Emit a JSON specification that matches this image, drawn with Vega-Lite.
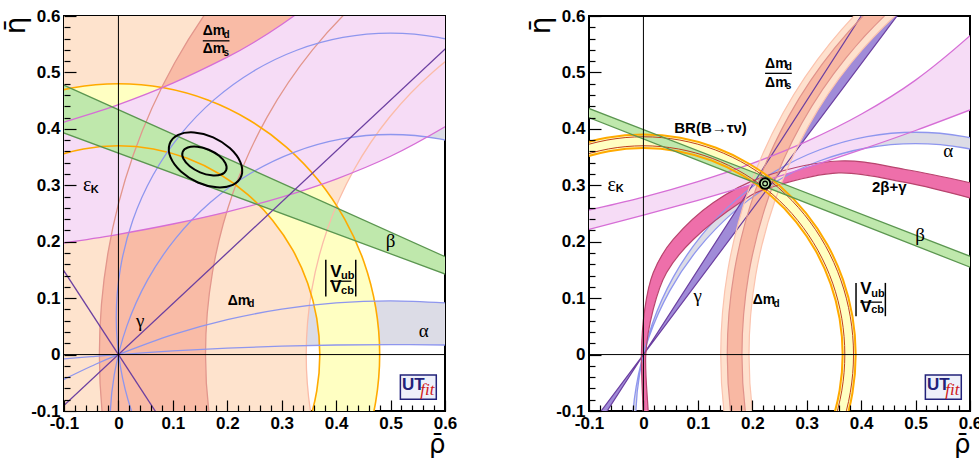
{
"$schema": "https://vega.github.io/schema/vega-lite/v6.json",
"background": "white",
"padding": {"left": 1, "top": 6, "right": 2, "bottom": 0},
"config": {"view": {"stroke": "#000", "strokeWidth": 2}, "font": "Liberation Sans"},
"spacing": 144,
"bounds": "flush",
"resolve": {"scale": {"x": "independent", "y": "independent"}},
"datasets": {
"L": [
{"s":"g1","i":0,"x":-0.2,"y":-0.0983},{"s":"g1","i":1,"x":-0.13,"y":-0.0591},{"s":"g1","i":2,"x":-0.1,"y":-0.0439},{"s":"g1","i":3,"x":-0.05,"y":-0.0207},{"s":"g1","i":4,"x":0,"y":0},{"s":"g1","i":5,"x":0.1,"y":0.0352},{"s":"g1","i":6,"x":0.2,"y":0.0618},{"s":"g1","i":7,"x":0.3,"y":0.0805},{"s":"g1","i":8,"x":0.4,"y":0.0915},{"s":"g1","i":9,"x":0.5,"y":0.0952},{"s":"g1","i":10,"x":0.6,"y":0.0915},{"s":"g1","i":11,"x":0.65,"y":0.0869},{"s":"g1","i":12,"x":0.7,"y":0.0805},{"s":"g1","i":13,"x":0.7,"y":0.0149},{"s":"g1","i":14,"x":0.65,"y":0.0161},{"s":"g1","i":15,"x":0.6,"y":0.017},{"s":"g1","i":16,"x":0.5,"y":0.0177},{"s":"g1","i":17,"x":0.4,"y":0.017},{"s":"g1","i":18,"x":0.3,"y":0.0149},{"s":"g1","i":19,"x":0.2,"y":0.0113},{"s":"g1","i":20,"x":0.1,"y":0.0064},{"s":"g1","i":21,"x":0,"y":0},{"s":"g1","i":22,"x":-0.05,"y":-0.0037},{"s":"g1","i":23,"x":-0.1,"y":-0.0078},{"s":"g1","i":24,"x":-0.13,"y":-0.0104},{"s":"g1","i":25,"x":-0.2,"y":-0.017},
{"s":"g2","i":0,"x":0.0635,"y":-0.1863},{"s":"g2","i":1,"x":0.0264,"y":-0.1067},{"s":"g2","i":2,"x":0.0037,"y":-0.0218},{"s":"g2","i":3,"x":-0.004,"y":0.0657},{"s":"g2","i":4,"x":0.0037,"y":0.1532},{"s":"g2","i":5,"x":0.0264,"y":0.2381},{"s":"g2","i":6,"x":0.0635,"y":0.3177},{"s":"g2","i":7,"x":0.1139,"y":0.3897},{"s":"g2","i":8,"x":0.176,"y":0.4518},{"s":"g2","i":9,"x":0.248,"y":0.5022},{"s":"g2","i":10,"x":0.3276,"y":0.5393},{"s":"g2","i":11,"x":0.4125,"y":0.562},{"s":"g2","i":12,"x":0.5,"y":0.5697},{"s":"g2","i":13,"x":0.5875,"y":0.562},{"s":"g2","i":14,"x":0.6724,"y":0.5393},{"s":"g2","i":15,"x":0.752,"y":0.5022},{"s":"g2","i":16,"x":0.7578,"y":0.3209},{"s":"g2","i":17,"x":0.6763,"y":0.3589},{"s":"g2","i":18,"x":0.5895,"y":0.3822},{"s":"g2","i":19,"x":0.5,"y":0.39},{"s":"g2","i":20,"x":0.4105,"y":0.3822},{"s":"g2","i":21,"x":0.3237,"y":0.3589},{"s":"g2","i":22,"x":0.2422,"y":0.3209},{"s":"g2","i":23,"x":0.1686,"y":0.2694},{"s":"g2","i":24,"x":0.1051,"y":0.2059},{"s":"g2","i":25,"x":0.0536,"y":0.1323},{"s":"g2","i":26,"x":0.0156,"y":0.0508},{"s":"g2","i":27,"x":-0.0077,"y":-0.036},{"s":"g2","i":28,"x":-0.0155,"y":-0.1255},{"s":"g2","i":29,"x":-0.0077,"y":-0.215},
{"s":"pe","i":0,"x":0.4328,"y":-0.3275},{"s":"pe","i":1,"x":0.3845,"y":-0.224},{"s":"pe","i":2,"x":0.355,"y":-0.1137},{"s":"pe","i":3,"x":0.345,"y":0},{"s":"pe","i":4,"x":0.355,"y":0.1137},{"s":"pe","i":5,"x":0.3845,"y":0.224},{"s":"pe","i":6,"x":0.4328,"y":0.3275},{"s":"pe","i":7,"x":0.4983,"y":0.421},{"s":"pe","i":8,"x":0.579,"y":0.5017},{"s":"pe","i":9,"x":0.6725,"y":0.5672},{"s":"pe","i":10,"x":0.776,"y":0.6155},{"s":"pe","i":11,"x":0.85,"y":0.85},{"s":"pe","i":12,"x":-0.3,"y":0.85},{"s":"pe","i":13,"x":-0.3,"y":-0.35},
{"s":"sa","i":0,"x":0.0274,"y":-0.354},{"s":"sa","i":1,"x":-0.0193,"y":-0.1797},{"s":"sa","i":2,"x":-0.035,"y":0},{"s":"sa","i":3,"x":-0.0193,"y":0.1797},{"s":"sa","i":4,"x":0.0274,"y":0.354},{"s":"sa","i":5,"x":0.1037,"y":0.5175},{"s":"sa","i":6,"x":0.2072,"y":0.6653},{"s":"sa","i":7,"x":0.3347,"y":0.7928},{"s":"sa","i":8,"x":0.58,"y":0.7274},{"s":"sa","i":9,"x":0.46,"y":0.6434},{"s":"sa","i":10,"x":0.3566,"y":0.54},{"s":"sa","i":11,"x":0.2726,"y":0.42},{"s":"sa","i":12,"x":0.2107,"y":0.2873},{"s":"sa","i":13,"x":0.1728,"y":0.1459},{"s":"sa","i":14,"x":0.16,"y":0},{"s":"sa","i":15,"x":0.1728,"y":-0.1459},{"s":"sa","i":16,"x":0.2107,"y":-0.2873},
{"s":"ye","i":0,"x":0.4157,"y":-0.24},{"s":"ye","i":1,"x":0.4511,"y":-0.1642},{"s":"ye","i":2,"x":0.4727,"y":-0.0833},{"s":"ye","i":3,"x":0.48,"y":0},{"s":"ye","i":4,"x":0.4727,"y":0.0833},{"s":"ye","i":5,"x":0.4511,"y":0.1642},{"s":"ye","i":6,"x":0.4157,"y":0.24},{"s":"ye","i":7,"x":0.3677,"y":0.3085},{"s":"ye","i":8,"x":0.3085,"y":0.3677},{"s":"ye","i":9,"x":0.24,"y":0.4157},{"s":"ye","i":10,"x":0.1642,"y":0.4511},{"s":"ye","i":11,"x":0.0833,"y":0.4727},{"s":"ye","i":12,"x":0,"y":0.48},{"s":"ye","i":13,"x":-0.0833,"y":0.4727},{"s":"ye","i":14,"x":-0.1642,"y":0.4511},{"s":"ye","i":15,"x":-0.24,"y":0.4157},{"s":"ye","i":16,"x":-0.185,"y":0.3204},{"s":"ye","i":17,"x":-0.1265,"y":0.3477},{"s":"ye","i":18,"x":-0.0642,"y":0.3644},{"s":"ye","i":19,"x":0,"y":0.37},{"s":"ye","i":20,"x":0.0642,"y":0.3644},{"s":"ye","i":21,"x":0.1265,"y":0.3477},{"s":"ye","i":22,"x":0.185,"y":0.3204},{"s":"ye","i":23,"x":0.2378,"y":0.2834},{"s":"ye","i":24,"x":0.2834,"y":0.2378},{"s":"ye","i":25,"x":0.3204,"y":0.185},{"s":"ye","i":26,"x":0.3477,"y":0.1265},{"s":"ye","i":27,"x":0.3644,"y":0.0642},{"s":"ye","i":28,"x":0.37,"y":0},{"s":"ye","i":29,"x":0.3644,"y":-0.0642},{"s":"ye","i":30,"x":0.3477,"y":-0.1265},{"s":"ye","i":31,"x":0.3204,"y":-0.185},
{"s":"li","i":0,"x":-0.2,"y":0.1843},{"s":"li","i":1,"x":-0.13,"y":0.1935},{"s":"li","i":2,"x":-0.1,"y":0.1977},{"s":"li","i":3,"x":0,"y":0.2132},{"s":"li","i":4,"x":0.1,"y":0.2314},{"s":"li","i":5,"x":0.2,"y":0.253},{"s":"li","i":6,"x":0.3,"y":0.2791},{"s":"li","i":7,"x":0.4,"y":0.3111},{"s":"li","i":8,"x":0.5,"y":0.3514},{"s":"li","i":9,"x":0.6,"y":0.4037},{"s":"li","i":10,"x":0.65,"y":0.4362},{"s":"li","i":11,"x":0.7,"y":0.4743},{"s":"li","i":12,"x":0.7,"y":0.8},{"s":"li","i":13,"x":0.42,"y":0.8},{"s":"li","i":14,"x":0.4,"y":0.66},{"s":"li","i":15,"x":0.35,"y":0.62},{"s":"li","i":16,"x":0.3,"y":0.585},{"s":"li","i":17,"x":0.25,"y":0.554},{"s":"li","i":18,"x":0.2,"y":0.527},{"s":"li","i":19,"x":0.1,"y":0.481},{"s":"li","i":20,"x":0,"y":0.443},{"s":"li","i":21,"x":-0.1,"y":0.412},{"s":"li","i":22,"x":-0.13,"y":0.404},{"s":"li","i":23,"x":-0.2,"y":0.3855},
{"s":"gr","i":0,"x":-0.15,"y":0.4991},{"s":"gr","i":1,"x":0.7,"y":0.1302},{"s":"gr","i":2,"x":0.7,"y":0.1071},{"s":"gr","i":3,"x":-0.15,"y":0.4106},
{"s":"ga1","i":0,"x":-0.15,"y":-0.1353},{"s":"ga1","i":1,"x":0.7,"y":0.6314},
{"s":"ga2","i":0,"x":-0.15,"y":0.222},{"s":"ga2","i":1,"x":0.1,"y":-0.148},
{"s":"c1","i":0,"x":0.198,"y":0.327},{"s":"c1","i":1,"x":0.1966,"y":0.3391},{"s":"c1","i":2,"x":0.1849,"y":0.3523},{"s":"c1","i":3,"x":0.166,"y":0.363},{"s":"c1","i":4,"x":0.1449,"y":0.3683},{"s":"c1","i":5,"x":0.1274,"y":0.3669},{"s":"c1","i":6,"x":0.118,"y":0.359},{"s":"c1","i":7,"x":0.1194,"y":0.3469},{"s":"c1","i":8,"x":0.1311,"y":0.3337},{"s":"c1","i":9,"x":0.15,"y":0.323},{"s":"c1","i":10,"x":0.1711,"y":0.3177},{"s":"c1","i":11,"x":0.1886,"y":0.3191},
{"s":"c2","i":0,"x":0.226,"y":0.317},{"s":"c2","i":1,"x":0.2242,"y":0.3408},{"s":"c2","i":2,"x":0.2051,"y":0.3656},{"s":"c2","i":3,"x":0.174,"y":0.385},{"s":"c2","i":4,"x":0.1391,"y":0.3936},{"s":"c2","i":5,"x":0.1098,"y":0.3893},{"s":"c2","i":6,"x":0.094,"y":0.373},{"s":"c2","i":7,"x":0.0958,"y":0.3493},{"s":"c2","i":8,"x":0.1149,"y":0.3244},{"s":"c2","i":9,"x":0.146,"y":0.305},{"s":"c2","i":10,"x":0.1809,"y":0.2964},{"s":"c2","i":11,"x":0.2102,"y":0.3008}
],
"R": [
{"s":"gy","i":0,"x":0.0167,"y":-0.2962},{"s":"gy","i":1,"x":-0.0065,"y":-0.2096},{"s":"gy","i":2,"x":-0.0143,"y":-0.1203},{"s":"gy","i":3,"x":-0.0065,"y":-0.031},{"s":"gy","i":4,"x":0.0167,"y":0.0556},{"s":"gy","i":5,"x":0.0546,"y":0.1369},{"s":"gy","i":6,"x":0.106,"y":0.2103},{"s":"gy","i":7,"x":0.1694,"y":0.2737},{"s":"gy","i":8,"x":0.2428,"y":0.3251},{"s":"gy","i":9,"x":0.3241,"y":0.363},{"s":"gy","i":10,"x":0.4107,"y":0.3862},{"s":"gy","i":11,"x":0.5,"y":0.394},{"s":"gy","i":12,"x":0.5893,"y":0.3862},{"s":"gy","i":13,"x":0.6759,"y":0.363},{"s":"gy","i":14,"x":0.7572,"y":0.3251},{"s":"gy","i":15,"x":0.7606,"y":0.3042},{"s":"gy","i":16,"x":0.6783,"y":0.3426},{"s":"gy","i":17,"x":0.5905,"y":0.3661},{"s":"gy","i":18,"x":0.5,"y":0.374},{"s":"gy","i":19,"x":0.4095,"y":0.3661},{"s":"gy","i":20,"x":0.3217,"y":0.3426},{"s":"gy","i":21,"x":0.2394,"y":0.3042},{"s":"gy","i":22,"x":0.165,"y":0.252},{"s":"gy","i":23,"x":0.1008,"y":0.1878},{"s":"gy","i":24,"x":0.0486,"y":0.1134},{"s":"gy","i":25,"x":0.0102,"y":0.0311},{"s":"gy","i":26,"x":-0.0133,"y":-0.0567},{"s":"gy","i":27,"x":-0.0212,"y":-0.1472},{"s":"gy","i":28,"x":-0.0133,"y":-0.2377},{"s":"gy","i":29,"x":0.0102,"y":-0.3255},
{"s":"pu","i":0,"x":-0.1333,"y":-0.2},{"s":"pu","i":1,"x":0.4667,"y":0.7},{"s":"pu","i":2,"x":0.5435,"y":0.7},{"s":"pu","i":3,"x":-0.1553,"y":-0.2},
{"s":"pk","i":0,"x":0.004,"y":-0.2},{"s":"pk","i":1,"x":-0.0005,"y":-0.1},{"s":"pk","i":2,"x":-0.0037,"y":0},{"s":"pk","i":3,"x":0.0024,"y":0.08},{"s":"pk","i":4,"x":0.018,"y":0.145},{"s":"pk","i":5,"x":0.0547,"y":0.204},{"s":"pk","i":6,"x":0.128,"y":0.269},{"s":"pk","i":7,"x":0.22,"y":0.315},{"s":"pk","i":8,"x":0.359,"y":0.343},{"s":"pk","i":9,"x":0.481,"y":0.328},{"s":"pk","i":10,"x":0.598,"y":0.305},{"s":"pk","i":11,"x":0.7,"y":0.28},{"s":"pk","i":12,"x":0.7,"y":0.248},{"s":"pk","i":13,"x":0.598,"y":0.278},{"s":"pk","i":14,"x":0.481,"y":0.305},{"s":"pk","i":15,"x":0.359,"y":0.322},{"s":"pk","i":16,"x":0.236,"y":0.297},{"s":"pk","i":17,"x":0.177,"y":0.269},{"s":"pk","i":18,"x":0.0916,"y":0.204},{"s":"pk","i":19,"x":0.0424,"y":0.145},{"s":"pk","i":20,"x":0.018,"y":0.08},{"s":"pk","i":21,"x":0.0043,"y":0},{"s":"pk","i":22,"x":0.0087,"y":-0.1},{"s":"pk","i":23,"x":0.016,"y":-0.2},
{"s":"pe","i":0,"x":0.1937,"y":-0.2935},{"s":"pe","i":1,"x":0.155,"y":-0.149},{"s":"pe","i":2,"x":0.142,"y":0},{"s":"pe","i":3,"x":0.155,"y":0.149},{"s":"pe","i":4,"x":0.1937,"y":0.2935},{"s":"pe","i":5,"x":0.257,"y":0.429},{"s":"pe","i":6,"x":0.3428,"y":0.5515},{"s":"pe","i":7,"x":0.4485,"y":0.6572},{"s":"pe","i":8,"x":0.571,"y":0.743},{"s":"pe","i":9,"x":0.597,"y":0.698},{"s":"pe","i":10,"x":0.4819,"y":0.6174},{"s":"pe","i":11,"x":0.3826,"y":0.5181},{"s":"pe","i":12,"x":0.302,"y":0.403},{"s":"pe","i":13,"x":0.2426,"y":0.2757},{"s":"pe","i":14,"x":0.2062,"y":0.14},{"s":"pe","i":15,"x":0.194,"y":0},{"s":"pe","i":16,"x":0.2062,"y":-0.14},{"s":"pe","i":17,"x":0.2426,"y":-0.2757},
{"s":"sa","i":0,"x":0.205,"y":-0.2893},{"s":"sa","i":1,"x":0.1669,"y":-0.1469},{"s":"sa","i":2,"x":0.154,"y":0},{"s":"sa","i":3,"x":0.1669,"y":0.1469},{"s":"sa","i":4,"x":0.205,"y":0.2893},{"s":"sa","i":5,"x":0.2673,"y":0.423},{"s":"sa","i":6,"x":0.3519,"y":0.5438},{"s":"sa","i":7,"x":0.4562,"y":0.6481},{"s":"sa","i":8,"x":0.577,"y":0.7327},{"s":"sa","i":9,"x":0.5905,"y":0.7093},{"s":"sa","i":10,"x":0.4736,"y":0.6274},{"s":"sa","i":11,"x":0.3726,"y":0.5264},{"s":"sa","i":12,"x":0.2907,"y":0.4095},{"s":"sa","i":13,"x":0.2304,"y":0.2801},{"s":"sa","i":14,"x":0.1934,"y":0.1422},{"s":"sa","i":15,"x":0.181,"y":0},{"s":"sa","i":16,"x":0.1934,"y":-0.1422},{"s":"sa","i":17,"x":0.2304,"y":-0.2801},
{"s":"li","i":0,"x":-0.2,"y":0.1985},{"s":"li","i":1,"x":-0.15,"y":0.2101},{"s":"li","i":2,"x":-0.1,"y":0.222},{"s":"li","i":3,"x":0,"y":0.247},{"s":"li","i":4,"x":0.1,"y":0.2734},{"s":"li","i":5,"x":0.2,"y":0.3015},{"s":"li","i":6,"x":0.3,"y":0.3313},{"s":"li","i":7,"x":0.4,"y":0.3632},{"s":"li","i":8,"x":0.5,"y":0.3971},{"s":"li","i":9,"x":0.6,"y":0.4335},{"s":"li","i":10,"x":0.65,"y":0.4527},{"s":"li","i":11,"x":0.7,"y":0.4725},{"s":"li","i":12,"x":0.7,"y":0.6713},{"s":"li","i":13,"x":0.65,"y":0.6139},{"s":"li","i":14,"x":0.6,"y":0.565},{"s":"li","i":15,"x":0.5,"y":0.4864},{"s":"li","i":16,"x":0.4,"y":0.4258},{"s":"li","i":17,"x":0.3,"y":0.3778},{"s":"li","i":18,"x":0.2,"y":0.3388},{"s":"li","i":19,"x":0.1,"y":0.3065},{"s":"li","i":20,"x":0,"y":0.279},{"s":"li","i":21,"x":-0.1,"y":0.256},{"s":"li","i":22,"x":-0.15,"y":0.2456},{"s":"li","i":23,"x":-0.2,"y":0.2359},
{"s":"ye","i":0,"x":0.3377,"y":-0.195},{"s":"ye","i":1,"x":0.3665,"y":-0.1334},{"s":"ye","i":2,"x":0.3841,"y":-0.0677},{"s":"ye","i":3,"x":0.39,"y":0},{"s":"ye","i":4,"x":0.3841,"y":0.0677},{"s":"ye","i":5,"x":0.3665,"y":0.1334},{"s":"ye","i":6,"x":0.3377,"y":0.195},{"s":"ye","i":7,"x":0.2987,"y":0.2507},{"s":"ye","i":8,"x":0.2507,"y":0.2987},{"s":"ye","i":9,"x":0.195,"y":0.3377},{"s":"ye","i":10,"x":0.1334,"y":0.3665},{"s":"ye","i":11,"x":0.0677,"y":0.3841},{"s":"ye","i":12,"x":0,"y":0.39},{"s":"ye","i":13,"x":-0.0677,"y":0.3841},{"s":"ye","i":14,"x":-0.1334,"y":0.3665},{"s":"ye","i":15,"x":-0.195,"y":0.3377},{"s":"ye","i":16,"x":-0.183,"y":0.317},{"s":"ye","i":17,"x":-0.1252,"y":0.3439},{"s":"ye","i":18,"x":-0.0636,"y":0.3604},{"s":"ye","i":19,"x":0,"y":0.366},{"s":"ye","i":20,"x":0.0636,"y":0.3604},{"s":"ye","i":21,"x":0.1252,"y":0.3439},{"s":"ye","i":22,"x":0.183,"y":0.317},{"s":"ye","i":23,"x":0.2353,"y":0.2804},{"s":"ye","i":24,"x":0.2804,"y":0.2353},{"s":"ye","i":25,"x":0.317,"y":0.183},{"s":"ye","i":26,"x":0.3439,"y":0.1252},{"s":"ye","i":27,"x":0.3604,"y":0.0636},{"s":"ye","i":28,"x":0.366,"y":0},{"s":"ye","i":29,"x":0.3604,"y":-0.0636},{"s":"ye","i":30,"x":0.3439,"y":-0.1252},{"s":"ye","i":31,"x":0.317,"y":-0.183},
{"s":"r1","i":0,"x":0.3343,"y":-0.193},{"s":"r1","i":1,"x":0.3627,"y":-0.132},{"s":"r1","i":2,"x":0.3801,"y":-0.067},{"s":"r1","i":3,"x":0.386,"y":0},{"s":"r1","i":4,"x":0.3801,"y":0.067},{"s":"r1","i":5,"x":0.3627,"y":0.132},{"s":"r1","i":6,"x":0.3343,"y":0.193},{"s":"r1","i":7,"x":0.2957,"y":0.2481},{"s":"r1","i":8,"x":0.2481,"y":0.2957},{"s":"r1","i":9,"x":0.193,"y":0.3343},{"s":"r1","i":10,"x":0.132,"y":0.3627},{"s":"r1","i":11,"x":0.067,"y":0.3801},{"s":"r1","i":12,"x":0,"y":0.386},{"s":"r1","i":13,"x":-0.067,"y":0.3801},{"s":"r1","i":14,"x":-0.132,"y":0.3627},{"s":"r1","i":15,"x":-0.193,"y":0.3343},
{"s":"r2","i":0,"x":0.3204,"y":-0.185},{"s":"r2","i":1,"x":0.3477,"y":-0.1265},{"s":"r2","i":2,"x":0.3644,"y":-0.0642},{"s":"r2","i":3,"x":0.37,"y":0},{"s":"r2","i":4,"x":0.3644,"y":0.0642},{"s":"r2","i":5,"x":0.3477,"y":0.1265},{"s":"r2","i":6,"x":0.3204,"y":0.185},{"s":"r2","i":7,"x":0.2834,"y":0.2378},{"s":"r2","i":8,"x":0.2378,"y":0.2834},{"s":"r2","i":9,"x":0.185,"y":0.3204},{"s":"r2","i":10,"x":0.1265,"y":0.3477},{"s":"r2","i":11,"x":0.0642,"y":0.3644},{"s":"r2","i":12,"x":0,"y":0.37},{"s":"r2","i":13,"x":-0.0642,"y":0.3644},{"s":"r2","i":14,"x":-0.1265,"y":0.3477},{"s":"r2","i":15,"x":-0.185,"y":0.3204},
{"s":"gr","i":0,"x":-0.15,"y":0.4547},{"s":"gr","i":1,"x":0.7,"y":0.1368},{"s":"gr","i":2,"x":0.7,"y":0.1171},{"s":"gr","i":3,"x":-0.15,"y":0.4389}
],
"T": [
{"p":1,"k":"m","t":"Δm","x":0.155,"y":0.566},{"p":1,"k":"s","t":"d","x":0.193,"y":0.561},{"p":1,"k":"m","t":"Δm","x":0.155,"y":0.534},{"p":1,"k":"s","t":"s","x":0.193,"y":0.53},
{"p":1,"k":"e","t":"ε","x":-0.065,"y":0.29},{"p":1,"k":"K","t":"K","x":-0.051,"y":0.287},
{"p":1,"k":"g","t":"β","x":0.5,"y":0.19},
{"p":1,"k":"V","t":"V","x":0.389,"y":0.138},{"p":1,"k":"v","t":"ub","x":0.409,"y":0.134},{"p":1,"k":"V","t":"V","x":0.389,"y":0.111},{"p":1,"k":"v","t":"cb","x":0.409,"y":0.107},
{"p":1,"k":"m","t":"Δm","x":0.2007,"y":0.088},{"p":1,"k":"s","t":"d","x":0.2387,"y":0.084},
{"p":1,"k":"g","t":"γ","x":0.04,"y":0.048},{"p":1,"k":"g","t":"α","x":0.561,"y":0.031},
{"p":1,"k":"U","t":"UT","x":0.521,"y":-0.062},{"p":1,"k":"f","t":"fit","x":0.5545,"y":-0.072},
{"p":2,"k":"m","t":"Δm","x":0.2235,"y":0.5085},{"p":2,"k":"s","t":"d","x":0.2615,"y":0.504},{"p":2,"k":"m","t":"Δm","x":0.2235,"y":0.4748},{"p":2,"k":"s","t":"s","x":0.2615,"y":0.4705},
{"p":2,"k":"b","t":"BR(B→τν)","x":0.0566,"y":0.392},
{"p":2,"k":"e","t":"ε","x":-0.066,"y":0.29},{"p":2,"k":"K","t":"K","x":-0.051,"y":0.2875},
{"p":2,"k":"g","t":"α","x":0.56,"y":0.351},{"p":2,"k":"b","t":"2β+γ","x":0.42,"y":0.2874},{"p":2,"k":"g","t":"β","x":0.5085,"y":0.2005},{"p":2,"k":"g","t":"γ","x":0.0995,"y":0.094},
{"p":2,"k":"m","t":"Δm","x":0.2009,"y":0.0888},{"p":2,"k":"s","t":"d","x":0.2389,"y":0.085},
{"p":2,"k":"V","t":"V","x":0.3985,"y":0.1066},{"p":2,"k":"v","t":"ub","x":0.4185,"y":0.1025},{"p":2,"k":"V","t":"V","x":0.3985,"y":0.0759},{"p":2,"k":"v","t":"cb","x":0.4185,"y":0.0729},
{"p":2,"k":"U","t":"UT","x":0.521,"y":-0.062},{"p":2,"k":"f","t":"fit","x":0.5545,"y":-0.072}
],
"H": [
{"p":1,"k":"z","x":-0.1,"x2":0.6,"y":0},{"p":1,"k":"b","x":0.155,"x2":0.204,"y":0.556},{"p":1,"k":"b","x":0.389,"x2":0.428,"y":0.13},
{"p":2,"k":"z","x":-0.1,"x2":0.6,"y":0},{"p":2,"k":"b","x":0.2235,"x2":0.2726,"y":0.4984},{"p":2,"k":"b","x":0.3985,"x2":0.4384,"y":0.0929}
],
"V": [
{"p":1,"k":"z","x":0,"y":-0.1,"y2":0.6},{"p":1,"k":"b","x":0.381,"y":0.103,"y2":0.168},{"p":1,"k":"b","x":0.436,"y":0.103,"y2":0.168},
{"p":2,"k":"z","x":0,"y":-0.1,"y2":0.6},{"p":2,"k":"b","x":0.3906,"y":0.068,"y2":0.127},{"p":2,"k":"b","x":0.4445,"y":0.068,"y2":0.127}
],
"G": [{"p":1,"x":0.518,"x2":0.584,"y":-0.079,"y2":-0.036},{"p":2,"x":0.518,"x2":0.584,"y":-0.079,"y2":-0.036}],
"P": [{"p":2,"x":0.2235,"y":0.303}],
"Z": [{"x":0,"y":0}]
},
"hconcat": [
{
"width": 381, "height": 395,
"resolve": {"axis": {"x": "independent", "y": "independent"}},
"layer": [
{
"encoding": {
"x": {"field": "x", "type": "quantitative", "scale": {"domain": [-0.1, 0.6], "nice": false, "zero": false},
 "axis": {"orient": "bottom", "zindex": 1, "title": "ρ̄", "titleFont": "DejaVu Sans", "titleFontSize": 26, "titleFontWeight": "normal", "titleColor": "#000", "titleAnchor": "end", "titlePadding": 0,
 "values": [-0.1,0,0.1,0.2,0.3,0.4,0.5,0.6],
 "labelExpr": "'' + round(datum.value*10)/10",
 "labelFont": "Liberation Sans", "labelFontSize": 17, "labelFontWeight": "bold", "labelColor": "#000", "labelFlush": false, "labelOverlap": false, "labelPadding": 15,
 "tickSize": -11, "tickColor": "#000", "tickWidth": 1.2, "domain": false, "grid": false}},
"y": {"field": "y", "type": "quantitative", "scale": {"domain": [-0.1, 0.6], "nice": false, "zero": false},
 "axis": {"orient": "left", "zindex": 1, "title": "η̄", "titleFont": "DejaVu Sans", "titleFontSize": 28, "titleFontWeight": "normal", "titleColor": "#000", "titleAnchor": "end", "titlePadding": 0,
 "values": [-0.1,0,0.1,0.2,0.3,0.4,0.5,0.6],
 "labelExpr": "'' + round(datum.value*10)/10",
 "labelFont": "Liberation Sans", "labelFontSize": 17, "labelFontWeight": "bold", "labelColor": "#000", "labelFlush": false, "labelOverlap": false, "labelPadding": 16,
 "tickSize": -12, "tickColor": "#000", "tickWidth": 1.2, "domain": false, "grid": false}}
},
"layer": [
{"data": {"name": "L"}, "transform": [{"filter": "datum.s=='g1' || datum.s=='g2'"}], "mark": {"type": "line", "filled": true, "fill": "#DCDCE6", "strokeWidth": 0, "interpolate": "cardinal", "clip": true}, "encoding": {"order": {"field": "i", "type": "quantitative"}, "detail": {"field": "s"}}},
{"data": {"name": "L"}, "transform": [{"filter": "datum.s=='pe'"}], "mark": {"type": "line", "filled": true, "fill": "#FEE3CD", "strokeWidth": 0, "interpolate": "cardinal", "clip": true}, "encoding": {"order": {"field": "i", "type": "quantitative"}}},
{"data": {"name": "L"}, "transform": [{"filter": "datum.s=='sa'"}], "mark": {"type": "line", "filled": true, "fill": "#F9BBA6", "strokeWidth": 0, "interpolate": "cardinal", "clip": true}, "encoding": {"order": {"field": "i", "type": "quantitative"}}},
{"data": {"name": "L"}, "transform": [{"filter": "datum.s=='ye'"}], "mark": {"type": "line", "filled": true, "fill": "#FFFFC2", "strokeWidth": 0, "interpolate": "cardinal", "clip": true}, "encoding": {"order": {"field": "i", "type": "quantitative"}}},
{"data": {"name": "L"}, "transform": [{"filter": "datum.s=='li'"}], "mark": {"type": "line", "filled": true, "fill": "#F6DCF6", "strokeWidth": 0, "interpolate": "cardinal", "clip": true}, "encoding": {"order": {"field": "i", "type": "quantitative"}}},
{"data": {"name": "L"}, "transform": [{"filter": "datum.s=='gr'"}], "mark": {"type": "line", "filled": true, "fill": "#BFE8AC", "strokeWidth": 0, "interpolate": "linear", "clip": true}, "encoding": {"order": {"field": "i", "type": "quantitative"}}},
{"data": {"name": "L"}, "transform": [{"filter": "datum.s=='pe'"}], "mark": {"type": "line", "stroke": "#FBBCA8", "strokeWidth": 1.3, "interpolate": "cardinal", "clip": true}, "encoding": {"order": {"field": "i", "type": "quantitative"}}},
{"data": {"name": "L"}, "transform": [{"filter": "datum.s=='sa'"}], "mark": {"type": "line", "stroke": "#E2968C", "strokeWidth": 1.3, "interpolate": "cardinal", "clip": true}, "encoding": {"order": {"field": "i", "type": "quantitative"}}},
{"data": {"name": "L"}, "transform": [{"filter": "datum.s=='ye'"}], "mark": {"type": "line", "stroke": "#FFAA00", "strokeWidth": 1.6, "interpolate": "cardinal", "clip": true}, "encoding": {"order": {"field": "i", "type": "quantitative"}}},
{"data": {"name": "L"}, "transform": [{"filter": "datum.s=='g1' || datum.s=='g2'"}], "mark": {"type": "line", "stroke": "#8E96EE", "strokeWidth": 1.3, "interpolate": "cardinal", "clip": true}, "encoding": {"order": {"field": "i", "type": "quantitative"}, "detail": {"field": "s"}}},
{"data": {"name": "L"}, "transform": [{"filter": "datum.s=='li'"}], "mark": {"type": "line", "stroke": "#D66ED6", "strokeWidth": 1.3, "interpolate": "cardinal", "clip": true}, "encoding": {"order": {"field": "i", "type": "quantitative"}}},
{"data": {"name": "L"}, "transform": [{"filter": "datum.s=='gr'"}], "mark": {"type": "line", "stroke": "#5B9650", "strokeWidth": 1.3, "interpolate": "linear", "clip": true}, "encoding": {"order": {"field": "i", "type": "quantitative"}}},
{"data": {"name": "L"}, "transform": [{"filter": "datum.s=='ga1' || datum.s=='ga2'"}], "mark": {"type": "line", "stroke": "#6B3FA0", "strokeWidth": 1.3, "interpolate": "linear", "clip": true}, "encoding": {"order": {"field": "i", "type": "quantitative"}, "detail": {"field": "s"}}},
{"data": {"name": "H"}, "transform": [{"filter": "datum.p==1 && datum.k=='z'"}], "mark": {"type": "rule", "color": "#000", "strokeWidth": 1}, "encoding": {"x2": {"field": "x2"}}},
{"data": {"name": "V"}, "transform": [{"filter": "datum.p==1 && datum.k=='z'"}], "mark": {"type": "rule", "color": "#000", "strokeWidth": 1}, "encoding": {"y2": {"field": "y2"}}},
{"data": {"name": "L"}, "transform": [{"filter": "datum.s=='c1' || datum.s=='c2'"}], "mark": {"type": "line", "stroke": "#000", "strokeWidth": 2, "interpolate": "cardinal-closed", "clip": true}, "encoding": {"order": {"field": "i", "type": "quantitative"}, "detail": {"field": "s"}}},
{"data": {"name": "H"}, "transform": [{"filter": "datum.p==1 && datum.k=='b'"}], "mark": {"type": "rule", "color": "#000", "strokeWidth": 1.3}, "encoding": {"x2": {"field": "x2"}}},
{"data": {"name": "V"}, "transform": [{"filter": "datum.p==1 && datum.k=='b'"}], "mark": {"type": "rule", "color": "#000", "strokeWidth": 1.5}, "encoding": {"y2": {"field": "y2"}}},
{"data": {"name": "T"}, "transform": [{"filter": "datum.p==1 && datum.k=='m'"}], "mark": {"type": "text", "font": "Liberation Sans", "fontWeight": "bold", "fontSize": 14, "align": "left", "baseline": "alphabetic", "color": "#000"}, "encoding": {"text": {"field": "t"}}},
{"data": {"name": "T"}, "transform": [{"filter": "datum.p==1 && datum.k=='s'"}], "mark": {"type": "text", "font": "Liberation Sans", "fontWeight": "bold", "fontSize": 10, "align": "left", "baseline": "alphabetic", "color": "#000"}, "encoding": {"text": {"field": "t"}}},
{"data": {"name": "T"}, "transform": [{"filter": "datum.p==1 && datum.k=='V'"}], "mark": {"type": "text", "font": "Liberation Sans", "fontWeight": "bold", "fontSize": 17, "align": "left", "baseline": "alphabetic", "color": "#000"}, "encoding": {"text": {"field": "t"}}},
{"data": {"name": "T"}, "transform": [{"filter": "datum.p==1 && datum.k=='v'"}], "mark": {"type": "text", "font": "Liberation Sans", "fontWeight": "bold", "fontSize": 11, "align": "left", "baseline": "alphabetic", "color": "#000"}, "encoding": {"text": {"field": "t"}}},
{"data": {"name": "T"}, "transform": [{"filter": "datum.p==1 && datum.k=='g'"}], "mark": {"type": "text", "font": "Liberation Serif", "fontSize": 19, "align": "center", "baseline": "alphabetic", "color": "#000"}, "encoding": {"text": {"field": "t"}}},
{"data": {"name": "T"}, "transform": [{"filter": "datum.p==1 && datum.k=='e'"}], "mark": {"type": "text", "font": "Liberation Serif", "fontSize": 20, "align": "left", "baseline": "alphabetic", "color": "#000"}, "encoding": {"text": {"field": "t"}}},
{"data": {"name": "T"}, "transform": [{"filter": "datum.p==1 && datum.k=='K'"}], "mark": {"type": "text", "font": "Liberation Sans", "fontWeight": "bold", "fontSize": 11, "align": "left", "baseline": "alphabetic", "color": "#000"}, "encoding": {"text": {"field": "t"}}},
{"data": {"name": "G"}, "transform": [{"filter": "datum.p==1"}], "mark": {"type": "rect", "fill": "#EEF0FA", "stroke": "#22227A", "strokeWidth": 1.5}, "encoding": {"x2": {"field": "x2"}, "y2": {"field": "y2"}}},
{"data": {"name": "T"}, "transform": [{"filter": "datum.p==1 && datum.k=='U'"}], "mark": {"type": "text", "font": "Liberation Sans", "fontWeight": "bold", "fontSize": 17, "align": "left", "baseline": "alphabetic", "color": "#22227A"}, "encoding": {"text": {"field": "t"}}},
{"data": {"name": "T"}, "transform": [{"filter": "datum.p==1 && datum.k=='f'"}], "mark": {"type": "text", "font": "Liberation Serif", "fontStyle": "italic", "fontSize": 17, "align": "left", "baseline": "alphabetic", "color": "#D01818"}, "encoding": {"text": {"field": "t"}}}
]
},
{"data": {"name": "Z"}, "mark": {"type": "point", "opacity": 0},
 "encoding": {
 "x": {"field": "x", "type": "quantitative", "scale": {"domain": [-0.1, 0.6], "nice": false, "zero": false},
  "axis": {"orient": "bottom", "zindex": 1, "title": null, "labels": false, "values": [-0.08,-0.06,-0.04,-0.02,0.02,0.04,0.06,0.08,0.12,0.14,0.16,0.18,0.22,0.24,0.26,0.28,0.32,0.34,0.36,0.38,0.42,0.44,0.46,0.48,0.52,0.54,0.56,0.58], "tickSize": -6, "tickColor": "#000", "tickWidth": 1.2, "domain": false, "grid": false}},
 "y": {"field": "y", "type": "quantitative", "scale": {"domain": [-0.1, 0.6], "nice": false, "zero": false},
  "axis": {"orient": "left", "zindex": 1, "title": null, "labels": false, "values": [-0.08,-0.06,-0.04,-0.02,0.02,0.04,0.06,0.08,0.12,0.14,0.16,0.18,0.22,0.24,0.26,0.28,0.32,0.34,0.36,0.38,0.42,0.44,0.46,0.48,0.52,0.54,0.56,0.58], "tickSize": -6, "tickColor": "#000", "tickWidth": 1.2, "domain": false, "grid": false}}
 }
}
]
},
{
"width": 381, "height": 395,
"resolve": {"axis": {"x": "independent", "y": "independent"}},
"layer": [
{
"encoding": {
"x": {"field": "x", "type": "quantitative", "scale": {"domain": [-0.1, 0.6], "nice": false, "zero": false},
 "axis": {"orient": "bottom", "zindex": 1, "title": "ρ̄", "titleFont": "DejaVu Sans", "titleFontSize": 26, "titleFontWeight": "normal", "titleColor": "#000", "titleAnchor": "end", "titlePadding": 0,
 "values": [-0.1,0,0.1,0.2,0.3,0.4,0.5,0.6],
 "labelExpr": "'' + round(datum.value*10)/10",
 "labelFont": "Liberation Sans", "labelFontSize": 17, "labelFontWeight": "bold", "labelColor": "#000", "labelFlush": false, "labelOverlap": false, "labelPadding": 15,
 "tickSize": -11, "tickColor": "#000", "tickWidth": 1.2, "domain": false, "grid": false}},
"y": {"field": "y", "type": "quantitative", "scale": {"domain": [-0.1, 0.6], "nice": false, "zero": false},
 "axis": {"orient": "left", "zindex": 1, "title": "η̄", "titleFont": "DejaVu Sans", "titleFontSize": 28, "titleFontWeight": "normal", "titleColor": "#000", "titleAnchor": "end", "titlePadding": 0,
 "values": [-0.1,0,0.1,0.2,0.3,0.4,0.5,0.6],
 "labelExpr": "'' + round(datum.value*10)/10",
 "labelFont": "Liberation Sans", "labelFontSize": 17, "labelFontWeight": "bold", "labelColor": "#000", "labelFlush": false, "labelOverlap": false, "labelPadding": 16,
 "tickSize": -12, "tickColor": "#000", "tickWidth": 1.2, "domain": false, "grid": false}}
},
"layer": [
{"data": {"name": "R"}, "transform": [{"filter": "datum.s=='gy'"}], "mark": {"type": "line", "filled": true, "fill": "#DCDCE6", "strokeWidth": 0, "interpolate": "cardinal", "clip": true}, "encoding": {"order": {"field": "i", "type": "quantitative"}}},
{"data": {"name": "R"}, "transform": [{"filter": "datum.s=='pu'"}], "mark": {"type": "line", "filled": true, "fill": "#A08BD8", "strokeWidth": 0, "interpolate": "linear", "clip": true}, "encoding": {"order": {"field": "i", "type": "quantitative"}}},
{"data": {"name": "R"}, "transform": [{"filter": "datum.s=='pk'"}], "mark": {"type": "line", "filled": true, "fill": "#EE6FAA", "strokeWidth": 0, "interpolate": "cardinal", "clip": true}, "encoding": {"order": {"field": "i", "type": "quantitative"}}},
{"data": {"name": "R"}, "transform": [{"filter": "datum.s=='li'"}], "mark": {"type": "line", "filled": true, "fill": "#F6DCF6", "strokeWidth": 0, "interpolate": "cardinal", "clip": true}, "encoding": {"order": {"field": "i", "type": "quantitative"}}},
{"data": {"name": "R"}, "transform": [{"filter": "datum.s=='pe'"}], "mark": {"type": "line", "filled": true, "fill": "#FEE1CE", "strokeWidth": 0, "interpolate": "cardinal", "clip": true}, "encoding": {"order": {"field": "i", "type": "quantitative"}}},
{"data": {"name": "R"}, "transform": [{"filter": "datum.s=='sa'"}], "mark": {"type": "line", "filled": true, "fill": "#F8B8A3", "strokeWidth": 0, "interpolate": "cardinal", "clip": true}, "encoding": {"order": {"field": "i", "type": "quantitative"}}},
{"data": {"name": "R"}, "transform": [{"filter": "datum.s=='ye'"}], "mark": {"type": "line", "filled": true, "fill": "#FFFFC2", "strokeWidth": 0, "interpolate": "cardinal", "clip": true}, "encoding": {"order": {"field": "i", "type": "quantitative"}}},
{"data": {"name": "R"}, "transform": [{"filter": "datum.s=='gr'"}], "mark": {"type": "line", "filled": true, "fill": "#BFE8AC", "strokeWidth": 0, "interpolate": "linear", "clip": true}, "encoding": {"order": {"field": "i", "type": "quantitative"}}},
{"data": {"name": "R"}, "transform": [{"filter": "datum.s=='gy'"}], "mark": {"type": "line", "stroke": "#8E96EE", "strokeWidth": 1.3, "interpolate": "cardinal", "clip": true}, "encoding": {"order": {"field": "i", "type": "quantitative"}}},
{"data": {"name": "R"}, "transform": [{"filter": "datum.s=='pu'"}], "mark": {"type": "line", "stroke": "#6B3FA0", "strokeWidth": 1.2, "interpolate": "linear", "clip": true}, "encoding": {"order": {"field": "i", "type": "quantitative"}}},
{"data": {"name": "R"}, "transform": [{"filter": "datum.s=='pk'"}], "mark": {"type": "line", "stroke": "#B8446E", "strokeWidth": 1.2, "interpolate": "cardinal", "clip": true}, "encoding": {"order": {"field": "i", "type": "quantitative"}}},
{"data": {"name": "R"}, "transform": [{"filter": "datum.s=='li'"}], "mark": {"type": "line", "stroke": "#D66ED6", "strokeWidth": 1.3, "interpolate": "cardinal", "clip": true}, "encoding": {"order": {"field": "i", "type": "quantitative"}}},
{"data": {"name": "R"}, "transform": [{"filter": "datum.s=='pe'"}], "mark": {"type": "line", "stroke": "#FBC3AE", "strokeWidth": 1.2, "interpolate": "cardinal", "clip": true}, "encoding": {"order": {"field": "i", "type": "quantitative"}}},
{"data": {"name": "R"}, "transform": [{"filter": "datum.s=='sa'"}], "mark": {"type": "line", "stroke": "#E0928A", "strokeWidth": 1.2, "interpolate": "cardinal", "clip": true}, "encoding": {"order": {"field": "i", "type": "quantitative"}}},
{"data": {"name": "R"}, "transform": [{"filter": "datum.s=='ye'"}], "mark": {"type": "line", "stroke": "#FFAA00", "strokeWidth": 2, "interpolate": "cardinal", "clip": true}, "encoding": {"order": {"field": "i", "type": "quantitative"}}},
{"data": {"name": "R"}, "transform": [{"filter": "datum.s=='r1' || datum.s=='r2'"}], "mark": {"type": "line", "stroke": "#C0401E", "strokeWidth": 1, "interpolate": "cardinal", "clip": true}, "encoding": {"order": {"field": "i", "type": "quantitative"}, "detail": {"field": "s"}}},
{"data": {"name": "R"}, "transform": [{"filter": "datum.s=='gr'"}], "mark": {"type": "line", "stroke": "#5B9650", "strokeWidth": 1.3, "interpolate": "linear", "clip": true}, "encoding": {"order": {"field": "i", "type": "quantitative"}}},
{"data": {"name": "H"}, "transform": [{"filter": "datum.p==2 && datum.k=='z'"}], "mark": {"type": "rule", "color": "#000", "strokeWidth": 1}, "encoding": {"x2": {"field": "x2"}}},
{"data": {"name": "V"}, "transform": [{"filter": "datum.p==2 && datum.k=='z'"}], "mark": {"type": "rule", "color": "#000", "strokeWidth": 1}, "encoding": {"y2": {"field": "y2"}}},
{"data": {"name": "P"}, "mark": {"type": "point", "shape": "circle", "size": 110, "filled": false, "fill": "#BFE8AC", "fillOpacity": 1, "stroke": "#000", "strokeWidth": 2, "opacity": 1}},
{"data": {"name": "P"}, "mark": {"type": "point", "shape": "circle", "size": 22, "filled": false, "stroke": "#000", "strokeWidth": 1.3, "opacity": 1}},
{"data": {"name": "H"}, "transform": [{"filter": "datum.p==2 && datum.k=='b'"}], "mark": {"type": "rule", "color": "#000", "strokeWidth": 1.3}, "encoding": {"x2": {"field": "x2"}}},
{"data": {"name": "V"}, "transform": [{"filter": "datum.p==2 && datum.k=='b'"}], "mark": {"type": "rule", "color": "#000", "strokeWidth": 1.5}, "encoding": {"y2": {"field": "y2"}}},
{"data": {"name": "T"}, "transform": [{"filter": "datum.p==2 && datum.k=='m'"}], "mark": {"type": "text", "font": "Liberation Sans", "fontWeight": "bold", "fontSize": 14, "align": "left", "baseline": "alphabetic", "color": "#000"}, "encoding": {"text": {"field": "t"}}},
{"data": {"name": "T"}, "transform": [{"filter": "datum.p==2 && datum.k=='s'"}], "mark": {"type": "text", "font": "Liberation Sans", "fontWeight": "bold", "fontSize": 10, "align": "left", "baseline": "alphabetic", "color": "#000"}, "encoding": {"text": {"field": "t"}}},
{"data": {"name": "T"}, "transform": [{"filter": "datum.p==2 && datum.k=='V'"}], "mark": {"type": "text", "font": "Liberation Sans", "fontWeight": "bold", "fontSize": 17, "align": "left", "baseline": "alphabetic", "color": "#000"}, "encoding": {"text": {"field": "t"}}},
{"data": {"name": "T"}, "transform": [{"filter": "datum.p==2 && datum.k=='v'"}], "mark": {"type": "text", "font": "Liberation Sans", "fontWeight": "bold", "fontSize": 11, "align": "left", "baseline": "alphabetic", "color": "#000"}, "encoding": {"text": {"field": "t"}}},
{"data": {"name": "T"}, "transform": [{"filter": "datum.p==2 && datum.k=='g'"}], "mark": {"type": "text", "font": "Liberation Serif", "fontSize": 19, "align": "center", "baseline": "alphabetic", "color": "#000"}, "encoding": {"text": {"field": "t"}}},
{"data": {"name": "T"}, "transform": [{"filter": "datum.p==2 && datum.k=='e'"}], "mark": {"type": "text", "font": "Liberation Serif", "fontSize": 20, "align": "left", "baseline": "alphabetic", "color": "#000"}, "encoding": {"text": {"field": "t"}}},
{"data": {"name": "T"}, "transform": [{"filter": "datum.p==2 && datum.k=='K'"}], "mark": {"type": "text", "font": "Liberation Sans", "fontWeight": "bold", "fontSize": 11, "align": "left", "baseline": "alphabetic", "color": "#000"}, "encoding": {"text": {"field": "t"}}},
{"data": {"name": "T"}, "transform": [{"filter": "datum.p==2 && datum.k=='b'"}], "mark": {"type": "text", "font": "Liberation Sans", "fontWeight": "bold", "fontSize": 15, "align": "left", "baseline": "alphabetic", "color": "#000"}, "encoding": {"text": {"field": "t"}}},
{"data": {"name": "G"}, "transform": [{"filter": "datum.p==2"}], "mark": {"type": "rect", "fill": "#EEF0FA", "stroke": "#22227A", "strokeWidth": 1.5}, "encoding": {"x2": {"field": "x2"}, "y2": {"field": "y2"}}},
{"data": {"name": "T"}, "transform": [{"filter": "datum.p==2 && datum.k=='U'"}], "mark": {"type": "text", "font": "Liberation Sans", "fontWeight": "bold", "fontSize": 17, "align": "left", "baseline": "alphabetic", "color": "#22227A"}, "encoding": {"text": {"field": "t"}}},
{"data": {"name": "T"}, "transform": [{"filter": "datum.p==2 && datum.k=='f'"}], "mark": {"type": "text", "font": "Liberation Serif", "fontStyle": "italic", "fontSize": 17, "align": "left", "baseline": "alphabetic", "color": "#D01818"}, "encoding": {"text": {"field": "t"}}}
]
},
{"data": {"name": "Z"}, "mark": {"type": "point", "opacity": 0},
 "encoding": {
 "x": {"field": "x", "type": "quantitative", "scale": {"domain": [-0.1, 0.6], "nice": false, "zero": false},
  "axis": {"orient": "bottom", "zindex": 1, "title": null, "labels": false, "values": [-0.08,-0.06,-0.04,-0.02,0.02,0.04,0.06,0.08,0.12,0.14,0.16,0.18,0.22,0.24,0.26,0.28,0.32,0.34,0.36,0.38,0.42,0.44,0.46,0.48,0.52,0.54,0.56,0.58], "tickSize": -6, "tickColor": "#000", "tickWidth": 1.2, "domain": false, "grid": false}},
 "y": {"field": "y", "type": "quantitative", "scale": {"domain": [-0.1, 0.6], "nice": false, "zero": false},
  "axis": {"orient": "left", "zindex": 1, "title": null, "labels": false, "values": [-0.08,-0.06,-0.04,-0.02,0.02,0.04,0.06,0.08,0.12,0.14,0.16,0.18,0.22,0.24,0.26,0.28,0.32,0.34,0.36,0.38,0.42,0.44,0.46,0.48,0.52,0.54,0.56,0.58], "tickSize": -6, "tickColor": "#000", "tickWidth": 1.2, "domain": false, "grid": false}}
 }
}
]
}
]
}
